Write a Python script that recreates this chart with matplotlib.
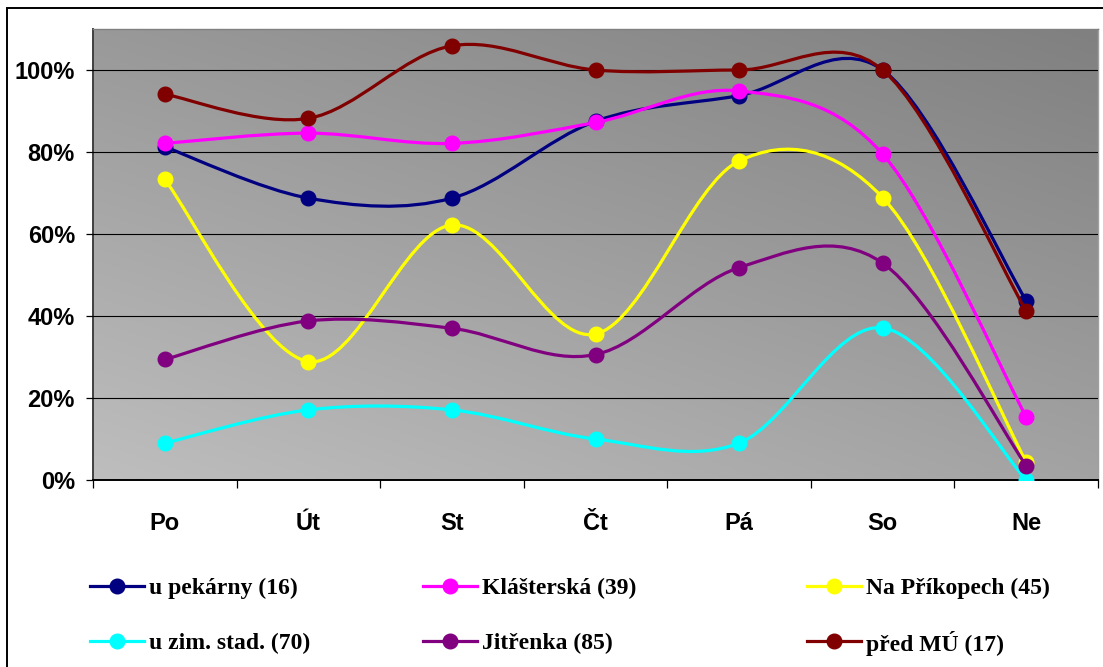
import numpy as np
import matplotlib.pyplot as plt
from matplotlib.path import Path
from matplotlib.patches import PathPatch, Rectangle
from matplotlib.lines import Line2D
from matplotlib.ticker import PercentFormatter

days = ['Po', 'Út', 'St', 'Čt', 'Pá', 'So', 'Ne']

u_pekarny = [0.8125, 0.6875, 0.6875, 0.875, 0.9375, 1.0, 0.4375]
klasterska = [0.821, 0.846, 0.821, 0.872, 0.949, 0.795, 0.154]
na_prikopech = [0.733, 0.289, 0.622, 0.356, 0.778, 0.689, 0.044]
u_zim_stad = [0.09, 0.171, 0.171, 0.10, 0.09, 0.371, 0.0]
jitrenka = [0.294, 0.388, 0.37, 0.306, 0.518, 0.529, 0.035]
pred_mu = [0.941, 0.882, 1.059, 1.0, 1.0, 1.0, 0.412]

series_names = ['u pekárny (16)', 'Klášterská (39)', 'Na Příkopech (45)',
                'u zim. stad. (70)', 'Jitřenka (85)', 'před MÚ (17)']
series_values = [u_pekarny, klasterska, na_prikopech, u_zim_stad, jitrenka, pred_mu]
series_colors = ['#000080', '#ff00ff', '#ffff00', '#00ffff', '#800080', '#800000']

W, H = 1103, 667


def smooth_path(xs, ys):
    # cubic bezier through the points (catmull-rom style tangents)
    pts = np.column_stack([xs, ys]).astype(float)
    ext = np.vstack([pts[0], pts, pts[-1]])
    verts = [pts[0]]
    codes = [Path.MOVETO]
    for i in range(len(pts) - 1):
        p0, p1, p2, p3 = ext[i], ext[i + 1], ext[i + 2], ext[i + 3]
        verts += [p1 + (p2 - p0) / 6, p2 - (p3 - p1) / 6, p2]
        codes += [Path.CURVE4] * 3
    return Path(verts, codes)


fig = plt.figure(figsize=(W / 100, H / 100), dpi=100)
fig.patch.set_facecolor('white')

left, right, top, bottom = 93, 1098, 29, 480
ax = fig.add_axes([left / W, 1 - bottom / H, (right - left) / W, (bottom - top) / H])

# diagonal grey gradient of the plot area
u, v = np.meshgrid(np.linspace(0, 1, 200), np.linspace(0, 1, 200))
shade = (190 - 27 * u - 37 * v + 2 * u * v) / 255.0
grad = np.dstack([shade, shade, shade])
ax.imshow(grad, extent=[0, 1, 0, 1], origin='lower', transform=ax.transAxes,
          aspect='auto', zorder=0, interpolation='bilinear')

x = np.arange(len(days))
for vals, col in zip(series_values, series_colors):
    ax.add_patch(PathPatch(smooth_path(x, vals), facecolor='none', edgecolor=col,
                           lw=2.3, zorder=3, capstyle='round', joinstyle='round'))
    ax.plot(x, vals, linestyle='none', marker='o', ms=10.5, color=col,
            markeredgecolor=col, zorder=3)

ax.set_xlim(-0.5, 6.5)
ax.set_ylim(0, 1.1)

ax.set_yticks(np.arange(0, 1.01, 0.2))
ax.yaxis.set_major_formatter(PercentFormatter(1.0, decimals=0))
ax.yaxis.grid(True, color='black', lw=0.8, zorder=1)
ax.set_axisbelow(False)
ax.tick_params(axis='y', direction='out', length=5, width=0.9, pad=8,
               labelsize=17)

ax.set_xticks(x)
ax.set_xticklabels(days)
ax.set_xticks(np.arange(-0.5, 7, 1), minor=True)
ax.tick_params(axis='x', which='major', length=0, pad=23, labelsize=17)
ax.tick_params(axis='x', which='minor', direction='out', length=6, width=0.9)

for lab in ax.get_xticklabels() + ax.get_yticklabels():
    lab.set_fontfamily('Liberation Sans')
    lab.set_fontweight('bold')

ax.spines['left'].set_color('#404040')
ax.spines['left'].set_linewidth(1.4)
ax.spines['bottom'].set_color('black')
ax.spines['bottom'].set_linewidth(1.4)
ax.spines['top'].set_color('#808080')
ax.spines['top'].set_linewidth(1.0)
ax.spines['right'].set_color('#a0a0a0')
ax.spines['right'].set_linewidth(1.0)

# legend: 2 rows x 3 columns, drawn entry by entry
col_x = [90, 423, 807]
row_y = [586, 641]
for k, (name, col) in enumerate(zip(series_names, series_colors)):
    x0 = col_x[k % 3]
    y0 = 1 - row_y[k // 3] / H
    fig.add_artist(Line2D([x0 / W, (x0 + 54) / W], [y0, y0], transform=fig.transFigure,
                          color=col, lw=2.3))
    fig.add_artist(Line2D([(x0 + 27) / W], [y0], transform=fig.transFigure,
                          marker='o', ms=10.5, color=col, markeredgecolor=col))
    fig.text((x0 + 59) / W, y0, name, ha='left', va='center_baseline',
             family='Liberation Serif', weight='bold', size=17)

# outer chart border
fig.patches.append(Rectangle((7 / W, -0.05), 1.1, 1 - 8 / H + 0.05,
                             transform=fig.transFigure, fill=False,
                             edgecolor='black', lw=1.4))

fig.savefig('out.png', dpi=100)
